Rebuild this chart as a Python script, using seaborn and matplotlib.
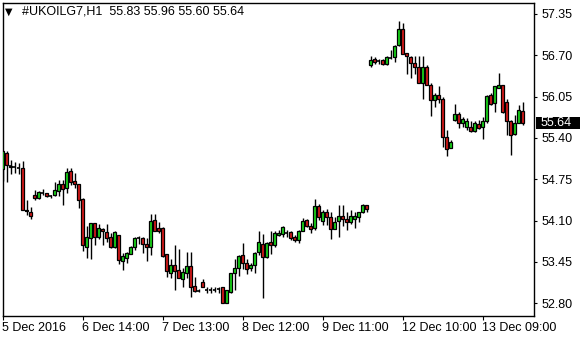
import numpy as np
import pandas as pd
import matplotlib
matplotlib.use("Agg")
import matplotlib.pyplot as plt
import matplotlib.transforms as mtransforms
import seaborn as sns

# ---- data (hourly candles) ----
opens = [54.91, 55.17, 54.95, 54.95, 54.93, 54.92, 54.26, 54.23, 54.50, 54.45,
         54.54, 54.53, 54.49, 54.50, 54.56, 54.67, 54.61, 54.88, 54.73, 54.67,
         54.44, 53.69, 53.82, 54.06, 53.85, 53.97, 53.92, 53.84, 53.68, 53.87,
         53.46, 53.51, 53.58, 53.68, 53.82, 53.82, 53.74, 53.68, 54.11, 53.98,
         53.98, 53.57, 53.28, 53.41, 53.32, 53.18, 53.27, 53.39, 53.07, 53.00,
         53.13, 53.01, 53.01, 53.01, 53.03, 53.05, 52.80, 52.98, 53.27, 53.35,
         53.56, 53.43, 53.35, 53.40, 53.60, 53.74, 53.53, 53.76, 53.71, 53.88,
         53.89, 53.91, 53.92, 53.85, 53.79, 53.93, 54.11, 54.02, 53.99, 54.33,
         54.09, 54.23, 54.15, 53.97, 54.09, 54.17, 54.13, 54.08, 54.13, 54.15,
         54.23, 54.34, 56.54, 56.64, 56.61, 56.62, 56.57, 56.66, 56.68, 56.86,
         57.12, 56.73, 56.67, 56.58, 56.51, 56.27, 56.51, 56.24, 56.00, 56.07,
         56.02, 55.41, 55.25, 55.68, 55.77, 55.63, 55.58, 55.58, 55.51, 55.62,
         55.58, 55.66, 56.08, 55.95, 56.18, 56.23, 55.97, 55.66, 55.46, 55.64,
         55.83]
highs = [55.20, 55.19, 55.05, 55.03, 55.01, 55.04, 54.42, 54.31, 54.58, 54.56,
         54.59, 54.54, 54.50, 54.70, 54.74, 54.74, 54.92, 54.93, 54.85, 54.67,
         54.45, 54.02, 54.06, 54.06, 54.05, 53.98, 54.05, 53.91, 53.93, 53.87,
         53.59, 53.60, 53.70, 53.85, 53.86, 53.85, 53.82, 54.20, 54.20, 54.08,
         54.00, 53.57, 53.49, 53.72, 53.65, 53.35, 53.60, 53.60, 53.21, 53.02,
         53.18, 53.06, 53.05, 53.05, 53.06, 53.05, 53.01, 53.28, 53.49, 53.56,
         53.75, 53.49, 53.44, 53.60, 53.94, 53.89, 53.77, 53.93, 53.94, 53.95,
         54.02, 53.95, 53.94, 53.87, 53.95, 54.14, 54.13, 54.06, 54.44, 54.36,
         54.27, 54.28, 54.24, 54.16, 54.35, 54.35, 54.24, 54.26, 54.23, 54.24,
         54.36, 54.35, 56.69, 56.67, 56.65, 56.65, 56.69, 56.78, 56.87, 57.24,
         57.21, 56.74, 56.69, 56.69, 56.69, 56.69, 56.55, 56.26, 56.11, 56.21,
         56.04, 55.53, 55.37, 55.93, 55.81, 55.73, 55.71, 55.66, 55.67, 55.68,
         55.73, 56.08, 56.10, 56.22, 56.42, 56.23, 56.02, 55.68, 55.76, 55.92,
         55.96]
lows = [54.72, 54.71, 54.84, 54.85, 54.84, 54.26, 54.19, 54.13, 54.42, 54.44,
        54.51, 54.47, 54.46, 54.49, 54.48, 54.34, 54.53, 54.66, 54.61, 54.30,
        53.62, 53.51, 53.49, 53.72, 53.81, 53.72, 53.77, 53.67, 53.67, 53.42,
        53.32, 53.43, 53.57, 53.64, 53.73, 53.59, 53.46, 53.56, 53.93, 53.90,
        53.53, 53.22, 53.19, 53.01, 53.19, 53.06, 53.19, 52.90, 52.98, 52.97,
        53.05, 52.96, 52.96, 52.97, 52.96, 52.80, 52.80, 52.96, 53.01, 53.23,
        53.34, 53.26, 53.31, 53.28, 53.56, 52.88, 53.52, 53.57, 53.69, 53.86,
        53.85, 53.84, 53.79, 53.76, 53.75, 53.93, 54.00, 53.90, 53.95, 54.11,
        54.03, 54.03, 53.81, 53.97, 53.85, 54.01, 53.96, 54.05, 53.99, 54.08,
        54.22, 54.24, 56.51, 56.57, 56.57, 56.54, 56.55, 56.65, 56.60, 56.85,
        56.72, 56.41, 56.34, 56.41, 56.26, 56.02, 56.23, 55.74, 55.89, 55.95,
        55.26, 55.11, 55.24, 55.66, 55.55, 55.58, 55.53, 55.50, 55.50, 55.54,
        55.39, 55.63, 55.92, 55.81, 56.18, 55.79, 55.45, 55.13, 55.45, 55.63,
        55.60]
closes = [55.19, 54.97, 54.96, 54.95, 54.93, 54.27, 54.25, 54.18, 54.45, 54.55,
          54.54, 54.48, 54.49, 54.58, 54.67, 54.60, 54.86, 54.71, 54.68, 54.42,
          53.71, 53.84, 54.06, 53.85, 53.98, 53.93, 53.83, 53.68, 53.92, 53.48,
          53.54, 53.59, 53.68, 53.83, 53.82, 53.74, 53.68, 54.09, 53.94, 53.94,
          53.54, 53.30, 53.40, 53.31, 53.19, 53.29, 53.39, 53.06, 53.00, 53.00,
          53.05, 53.01, 53.01, 53.01, 53.03, 52.80, 53.01, 53.27, 53.35, 53.54,
          53.43, 53.34, 53.40, 53.59, 53.76, 53.53, 53.75, 53.71, 53.90, 53.91,
          54.00, 53.91, 53.82, 53.80, 53.94, 54.09, 54.01, 53.97, 54.33, 54.16,
          54.24, 54.15, 53.97, 54.08, 54.17, 54.12, 54.08, 54.17, 54.17, 54.24,
          54.35, 54.29, 56.63, 56.60, 56.61, 56.56, 56.67, 56.66, 56.84, 57.12,
          56.72, 56.69, 56.58, 56.51, 56.27, 56.51, 56.24, 56.00, 56.07, 56.02,
          55.42, 55.22, 55.33, 55.77, 55.63, 55.70, 55.67, 55.51, 55.63, 55.56,
          55.67, 56.06, 55.93, 56.21, 56.23, 55.81, 55.66, 55.45, 55.64, 55.84,
          55.64]

x_tick_bars = [0, 20, 40, 60, 80, 100, 120]
x_tick_labels = ["5 Dec 2016", "6 Dec 14:00", "7 Dec 13:00", "8 Dec 12:00",
                 "9 Dec 11:00", "12 Dec 10:00", "13 Dec 09:00"]
y_ticks = [52.80, 53.45, 54.10, 54.75, 55.40, 56.05, 56.70, 57.35]
title_text = "#UKOILG7,H1  55.83 55.96 55.60 55.64"
last_price = 55.64

df = pd.DataFrame({"open": opens, "high": highs, "low": lows, "close": closes})
df["bar"] = np.arange(len(df))
df["bottom"] = df[["open", "close"]].min(axis=1)
df["height"] = (df["close"] - df["open"]).abs()
df["dir"] = np.where(df["close"] > df["open"], "up",
                     np.where(df["close"] < df["open"], "down", "flat"))

# ---- style ----
sns.set_theme(style="white")
plt.rcParams["font.family"] = ["Liberation Sans", "DejaVu Sans"]
plt.rcParams["font.size"] = 9

GREEN = "#1ad81a"
RED = "#d81a1a"
FS = 9

fig = plt.figure(figsize=(5.8, 3.4), dpi=100)
ax = fig.add_axes([3 / 580, 24 / 340, 531 / 580, 313 / 340])

# wicks
ax.vlines(df["bar"], df["low"], df["high"], color="black", linewidth=1.0, zorder=2)

# bodies
body_w = 0.75
for d, col in (("up", GREEN), ("down", RED)):
    sub = df[df["dir"] == d]
    ax.bar(sub["bar"], sub["height"], bottom=sub["bottom"], width=body_w,
           color=col, edgecolor="black", linewidth=0.9, zorder=3)
flat = df[df["dir"] == "flat"]
ax.hlines(flat["close"], flat["bar"] - body_w / 2, flat["bar"] + body_w / 2,
          color="black", linewidth=1.2, zorder=3)
small = df[(df["dir"] != "flat") & (df["height"] < 0.02)]
ax.hlines(small["close"], small["bar"] - body_w / 2, small["bar"] + body_w / 2,
          color="black", linewidth=1.2, zorder=4)

ax.set_xlim(0.05, 132.85)
ax.set_ylim(52.60, 57.523)

for s in ax.spines.values():
    s.set_color("black")
    s.set_linewidth(1.0)

ax.yaxis.tick_right()
ax.set_yticks(y_ticks)
ax.set_yticklabels([f"{v:.2f}" for v in y_ticks])
ax.tick_params(axis="y", which="both", right=True, left=False, direction="out",
               length=2.5, width=0.8, pad=3.0, labelsize=FS, colors="black")

ax.set_xticks(x_tick_bars)
ax.set_xticklabels(x_tick_labels)
ax.tick_params(axis="x", which="both", bottom=True, direction="out",
               length=3, width=0.8, pad=1.5, labelsize=FS, colors="black")
offset = mtransforms.ScaledTranslation(-1 / 100, 0, fig.dpi_scale_trans)
for lbl in ax.get_xticklabels():
    lbl.set_horizontalalignment("left")
    lbl.set_transform(lbl.get_transform() + offset)

ax.grid(False)
ax.set_xlabel("")
ax.set_ylabel("")

# current price label
trans = mtransforms.blended_transform_factory(ax.transAxes, ax.transData)
ax.add_patch(plt.Rectangle((1.0 + 1.7 / 531, last_price - 0.095), 46 / 531, 0.19,
                           transform=trans, facecolor="black", edgecolor="none",
                           clip_on=False, zorder=9))
ax.text(1.0 + 7 / 531, last_price, f"{last_price:.2f}", transform=trans,
        color="white", fontsize=FS, va="center", ha="left", zorder=10)

# title with triangle
fig.text(5 / 580, 1 - 12 / 340, "\u25BC", fontsize=7, color="black",
         va="center", ha="left", family=["DejaVu Sans"])
fig.text(22 / 580, 1 - 12 / 340, title_text, fontsize=FS, color="black",
         va="center", ha="left")

fig.savefig("out.png", dpi=100, facecolor="white")
